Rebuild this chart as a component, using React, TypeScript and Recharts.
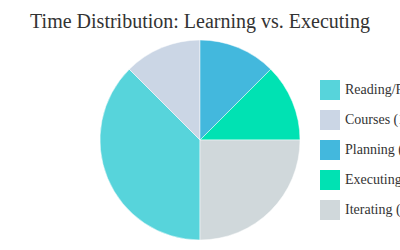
import { Legend, Pie, PieChart, Cell } from "recharts"

const categories = ["Reading/Research (37.5%)", "Courses (12.5%)", "Planning (12.5%)", "Executing (12.5%)", "Iterating (25%)"]
const values = [37.5, 12.5, 12.5, 12.5, 25]
const colors = ["#57d4db", "#cbd6e5", "#43b8dd", "#00e2b3", "#d0d8db"]

const data = categories.map((name, i) => ({ name, value: values[i] }))

const renderLegend = () => (
    <div style={{ position: "absolute", left: 320, top: 80, width: 200 }}>
        {data.map((d, i) => (
            <div key={d.name} style={{ display: "flex", alignItems: "center", height: 20, marginBottom: 10 }}>
                <div style={{ width: 20, height: 20, background: colors[i], marginRight: 5 }} />
                <span style={{ fontFamily: "'Liberation Serif', serif", fontSize: 14, color: "#333", whiteSpace: "nowrap" }}>
                    {d.name}
                </span>
            </div>
        ))}
    </div>
)

export default function App() {
    return (
        <div style={{ position: "absolute", left: 0, top: 0, width: 400, height: 250, overflow: "hidden", background: "#fff" }}>
            <div
                style={{
                    position: "absolute",
                    top: 10,
                    width: 400,
                    textAlign: "center",
                    fontFamily: "'Liberation Serif', serif",
                    fontSize: 20,
                    color: "#333",
                }}
            >
                Time Distribution: Learning vs. Executing
            </div>
            <PieChart width={400} height={250} margin={{ top: 0, right: 0, bottom: 0, left: 0 }}>
                <Pie
                    data={data}
                    dataKey="value"
                    nameKey="name"
                    cx={200}
                    cy={140}
                    outerRadius={100}
                    startAngle={-90}
                    endAngle={-450}
                    stroke="#ffffff"
                    strokeWidth={0.5}
                    isAnimationActive={false}
                >
                    {data.map((d, i) => (
                        <Cell key={d.name} fill={colors[i]} />
                    ))}
                </Pie>
                <Legend content={renderLegend} wrapperStyle={{ position: "absolute", left: 0, top: 0, width: 0, height: 0 }} />
            </PieChart>
        </div>
    )
}
